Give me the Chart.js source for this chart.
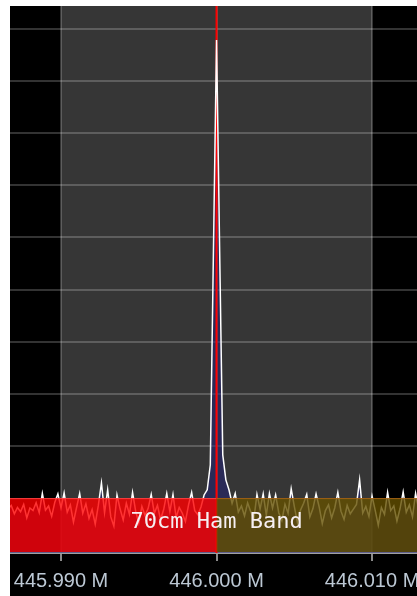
<!DOCTYPE html>
<html>
<head>
<meta charset="utf-8">
<script src="https://cdn.jsdelivr.net/npm/chart.js@4/dist/chart.umd.min.js"></script>
<style>
  html, body { margin: 0; padding: 0; background: #ffffff; }
  #wrap { position: absolute; left: 10px; top: 6px; width: 407px; height: 590px; background: #000000; }
</style>
</head>
<body>
<div id="wrap"><canvas id="c"></canvas></div>
<script>
// ---- data ----
const freqStart = 445.9866;   // MHz, first FFT bin
const freqStep = 0.0002;      // MHz per bin
const levelsDb = [
  -112.1, -111.4, -113.0, -111.8, -112.6, -111.2, -113.8, -111.9, -112.4, -110.9,
  -112.8, -109.1, -112.3, -111.5, -113.5, -110.8, -109.2, -111.9, -109.0, -112.7,
  -111.3, -114.6, -111.8, -109.1, -112.9, -111.1, -113.9, -112.2, -115.0, -111.4,
  -107.1, -112.8, -108.4, -113.6, -115.4, -109.4, -112.1, -114.2, -111.0, -113.1,
  -108.9, -112.5, -114.8, -111.6, -113.3, -112.0, -109.3, -112.9, -111.4, -114.1,
  -112.2, -109.1, -112.6, -109.3, -113.7, -111.8, -112.9, -114.5, -111.3, -108.9,
  -112.4, -113.2, -111.7, -109.4, -108.4, -103.6, -62.8, -22.1, -62.4, -101.7,
  -106.5, -108.4, -111.0, -109.1, -112.7, -111.5, -113.4, -110.9, -112.6, -114.0,
  -109.3, -112.1, -109.2, -113.3, -109.1, -111.9, -109.4, -112.8, -114.3, -111.2,
  -112.9, -108.2, -111.6, -114.7, -112.3, -111.0, -109.3, -113.6, -112.0, -109.2,
  -111.7, -114.9, -112.4, -111.3, -113.8, -111.9, -108.9, -112.5, -114.1, -111.4,
  -113.0, -112.1, -111.2, -106.5, -112.9, -111.6, -113.5, -109.6, -112.3, -115.2,
  -111.8, -113.1, -108.9, -112.4, -111.5, -114.4, -112.0, -108.8, -112.7, -111.3,
  -113.6, -109.1, -112.2
];
const xTickValues = [445.990, 446.000, 446.010];          // MHz
const yTickValues = [-20, -30, -40, -50, -60, -70, -80, -90, -100]; // dB
const viewRange = [445.98672, 446.01289];                // MHz shown
const levelRange = [-120.53, -15.59];                    // dB shown
const filterBand = [445.990, 446.010];                   // receiver bandwidth (gray)
const tunedFreq = [446.000];                             // centre marker
const bandEdges = [445.98672, 446.000, 446.01289];       // band overlay segments
const bandTopDb = [-110.0];
const bandLabel = ['70cm Ham Band'];

// ---- styles ----
const bandFill = ['rgba(255,0,0,0.8)', 'rgba(100,80,0,0.8)'];
const bandEdge = ['rgba(255,70,70,0.9)', 'rgba(170,100,20,0.9)'];

const points = levelsDb.map((v, i) => ({ x: freqStart + i * freqStep, y: v }));

const sdrPlugin = {
  id: 'sdr',
  beforeDraw(chart) {
    const { ctx, chartArea: a, scales: { x } } = chart;
    ctx.save();
    const x0 = x.getPixelForValue(filterBand[0]);
    const x1 = x.getPixelForValue(filterBand[1]);
    ctx.fillStyle = '#363636';
    ctx.fillRect(x0, a.top, x1 - x0, a.bottom - a.top);
    ctx.restore();
  },
  beforeDatasetDraw(chart) {
    const { ctx, chartArea: a, scales: { x } } = chart;
    ctx.save();
    const cx = x.getPixelForValue(tunedFreq[0]);
    ctx.strokeStyle = '#ff0000';
    ctx.lineWidth = 2;
    ctx.beginPath();
    ctx.moveTo(cx, a.top);
    ctx.lineTo(cx, a.bottom);
    ctx.stroke();
    ctx.restore();
  },
  afterDatasetsDraw(chart) {
    const { ctx, chartArea: a, scales: { x, y } } = chart;
    ctx.save();
    ctx.beginPath();
    ctx.rect(a.left, a.top, a.right - a.left, a.bottom - a.top);
    ctx.clip();
    const yt = y.getPixelForValue(bandTopDb[0]);
    for (let k = 0; k < bandEdges.length - 1; k++) {
      const x0 = x.getPixelForValue(bandEdges[k]);
      const x1 = x.getPixelForValue(bandEdges[k + 1]);
      ctx.fillStyle = bandFill[k];
      ctx.fillRect(x0, yt, x1 - x0, a.bottom - 1 - yt);
      ctx.strokeStyle = bandEdge[k];
      ctx.lineWidth = 1;
      ctx.beginPath();
      ctx.moveTo(x0, yt + 0.5);
      ctx.lineTo(x1, yt + 0.5);
      ctx.stroke();
    }
    ctx.fillStyle = '#f6eff2';
    ctx.font = '22px "DejaVu Sans Mono", monospace';
    ctx.textAlign = 'center';
    ctx.textBaseline = 'alphabetic';
    ctx.fillText(bandLabel[0], x.getPixelForValue(tunedFreq[0]), yt + 30);
    ctx.restore();
  }
};

new Chart(document.getElementById('c'), {
  type: 'line',
  data: {
    datasets: [{
      data: points,
      borderColor: '#ffffff',
      borderWidth: 1.5,
      backgroundColor: 'rgba(30,30,120,0.5)',
      fill: 'start',
      pointRadius: 0,
      tension: 0
    }]
  },
  options: {
    responsive: true,
    maintainAspectRatio: false,
    animation: false,
    layout: { padding: 0 },
    plugins: { legend: { display: false }, tooltip: { enabled: false } },
    scales: {
      x: {
        type: 'linear',
        min: viewRange[0],
        max: viewRange[1],
        afterBuildTicks: (s) => { s.ticks = xTickValues.map(v => ({ value: v })); },
        afterFit: (s) => { s.paddingLeft = 0; s.paddingRight = 0; s.height = 43; },
        ticks: {
          color: '#bcc8d4',
          font: { family: '"Liberation Sans", Arial, sans-serif', size: 20 },
          padding: 8,
          maxRotation: 0,
          autoSkip: false,
          callback: (v) => Number(v).toFixed(3) + ' M'
        },
        grid: {
          color: 'rgba(255,255,255,0.2)',
          lineWidth: 2,
          drawTicks: true,
          tickLength: 8,
          tickColor: '#8a8a8a'
        },
        border: { display: true, color: '#a0a0a0', width: 2 }
      },
      y: {
        type: 'linear',
        min: levelRange[0],
        max: levelRange[1],
        afterBuildTicks: (s) => { s.ticks = yTickValues.map(v => ({ value: v })); },
        afterFit: (s) => { s.width = 0; s.paddingTop = 0; s.paddingBottom = 0; },
        ticks: { display: false },
        grid: { color: 'rgba(255,255,255,0.2)', lineWidth: 2, drawTicks: false },
        border: { display: false }
      }
    }
  },
  plugins: [sdrPlugin]
});
</script>
</body>
</html>
